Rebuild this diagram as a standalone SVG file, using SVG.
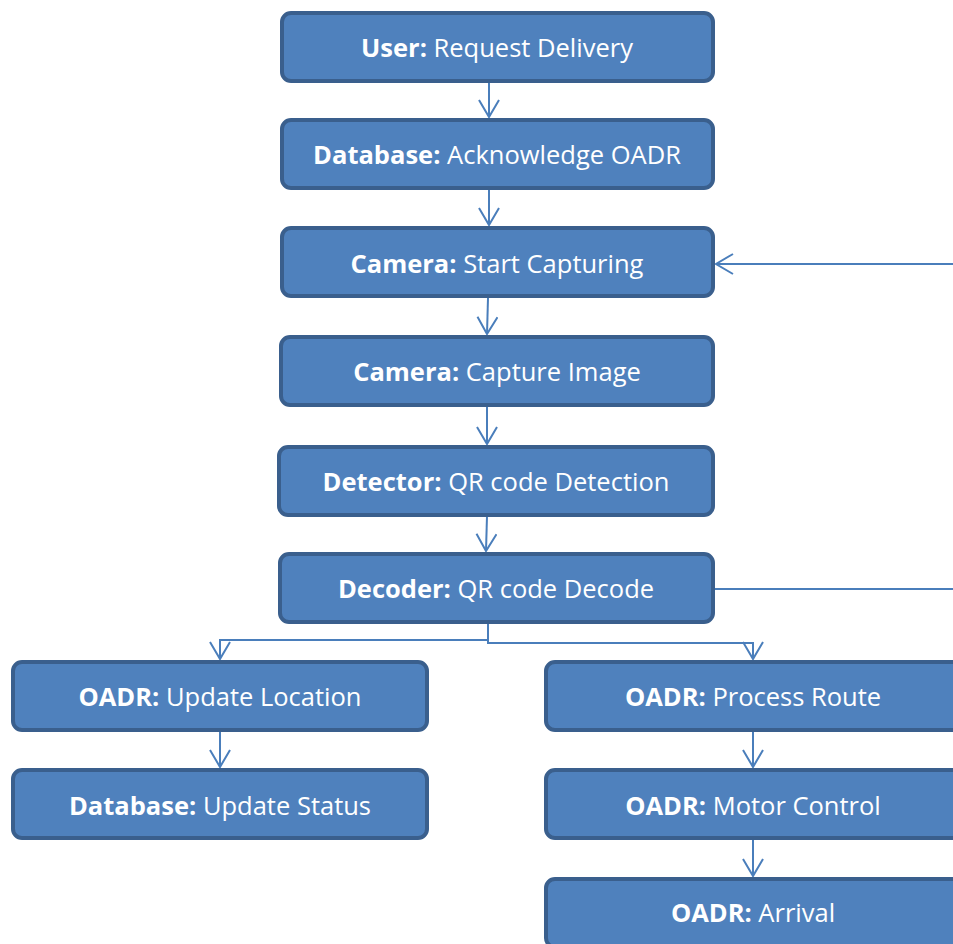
<svg xmlns="http://www.w3.org/2000/svg" width="953" height="944" viewBox="0 0 953 944">
  <style>
    .box { fill: #4F81BD; stroke: #3A5F8D; stroke-width: 4; }
    .lbl { font-family: "Open Sans", "Liberation Sans", sans-serif; font-size: 25.5px; fill: #FFFFFF; text-anchor: middle; }
    .lbl .k { font-weight: bold; }
    .edge { fill: none; stroke: #4A7EBB; stroke-width: 2; }
  </style>
  <defs>
    <marker id="arrow" viewBox="0 0 20 22" refX="18" refY="11" markerWidth="20" markerHeight="22" markerUnits="userSpaceOnUse" orient="auto">
      <path d="M1,1 L18,11 L1,21" fill="none" stroke="#4A7EBB" stroke-width="2"/>
    </marker>
  </defs>
  <rect width="953" height="944" fill="#FFFFFF"/>

  <!-- connectors -->
  <g id="connectors">
    <path class="edge" d="M489,82 L489,117" marker-end="url(#arrow)"/>
    <path class="edge" d="M489,189 L489,225" marker-end="url(#arrow)"/>
    <path class="edge" d="M488,298 L487,334" marker-end="url(#arrow)"/>
    <path class="edge" d="M487,406 L487,444" marker-end="url(#arrow)"/>
    <path class="edge" d="M487,516 L486,551" marker-end="url(#arrow)"/>
    <path class="edge" d="M488,623 L488,640 L220,640 L220,659" marker-end="url(#arrow)"/>
    <path class="edge" d="M488,623 L488,643 L753,643 L753,659" marker-end="url(#arrow)"/>
    <path class="edge" d="M220,731 L220,767" marker-end="url(#arrow)"/>
    <path class="edge" d="M753,731 L753,767" marker-end="url(#arrow)"/>
    <path class="edge" d="M753,840 L753,876" marker-end="url(#arrow)"/>
    <!-- loop back from decoder to camera -->
    <path class="edge" d="M714,589 L953,589"/>
    <path class="edge" d="M953,264 L716,264" marker-end="url(#arrow)"/>
  </g>

  <g id="n-user">
    <rect class="box" x="282" y="13" width="431" height="68" rx="9"/>
    <text class="lbl" x="497" y="57"><tspan class="k">User:</tspan> Request Delivery</text>
  </g>
  <g id="n-db-ack">
    <rect class="box" x="282" y="120" width="431" height="68" rx="9"/>
    <text class="lbl" x="497" y="164"><tspan class="k">Database:</tspan> Acknowledge OADR</text>
  </g>
  <g id="n-cam-start">
    <rect class="box" x="282" y="228" width="431" height="68" rx="9"/>
    <text class="lbl" x="497" y="273"><tspan class="k">Camera:</tspan> Start Capturing</text>
  </g>
  <g id="n-cam-capture">
    <rect class="box" x="281" y="337" width="432" height="68" rx="9"/>
    <text class="lbl" x="497" y="381"><tspan class="k">Camera:</tspan> Capture Image</text>
  </g>
  <g id="n-detector">
    <rect class="box" x="279" y="447" width="434" height="68" rx="9"/>
    <text class="lbl" x="496" y="491"><tspan class="k">Detector:</tspan> QR code Detection</text>
  </g>
  <g id="n-decoder">
    <rect class="box" x="280" y="554" width="433" height="68" rx="9"/>
    <text class="lbl" x="496" y="598"><tspan class="k">Decoder:</tspan> QR code Decode</text>
  </g>
  <g id="n-update-loc">
    <rect class="box" x="13" y="662" width="414" height="68" rx="9"/>
    <text class="lbl" x="220" y="706"><tspan class="k">OADR:</tspan> Update Location</text>
  </g>
  <g id="n-db-status">
    <rect class="box" x="13" y="770" width="414" height="68" rx="9"/>
    <text class="lbl" x="220" y="815"><tspan class="k">Database:</tspan> Update Status</text>
  </g>
  <g id="n-route">
    <rect class="box" x="546" y="662" width="416" height="68" rx="9"/>
    <text class="lbl" x="753" y="706"><tspan class="k">OADR:</tspan> Process Route</text>
  </g>
  <g id="n-motor">
    <rect class="box" x="546" y="770" width="416" height="68" rx="9"/>
    <text class="lbl" x="753" y="815"><tspan class="k">OADR:</tspan> Motor Control</text>
  </g>
  <g id="n-arrival">
    <rect class="box" x="546" y="879" width="416" height="68" rx="9"/>
    <text class="lbl" x="753" y="922"><tspan class="k">OADR:</tspan> Arrival</text>
  </g>
</svg>
